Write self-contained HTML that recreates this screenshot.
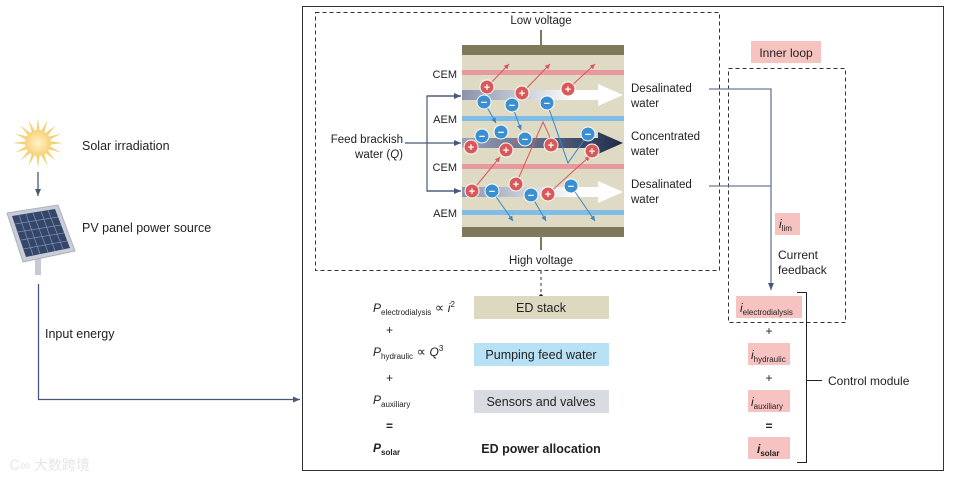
<!DOCTYPE html>
<html><head><meta charset="utf-8"><style>
html,body{margin:0;padding:0;background:#fff;}
svg{display:block;font-family:"Liberation Sans",sans-serif;}
</style></head><body>
<svg width="959" height="481" viewBox="0 0 959 481" xmlns="http://www.w3.org/2000/svg">
<defs>
<marker id="ar" markerWidth="8" markerHeight="8" refX="7" refY="4" orient="auto" markerUnits="userSpaceOnUse"><path d="M0,1 L7,4 L0,7 Z" fill="#4a5878"/></marker>
<marker id="rr" markerWidth="6" markerHeight="6" refX="5" refY="3" orient="auto" markerUnits="userSpaceOnUse"><path d="M0,0.5 L5,3 L0,5.5 Z" fill="#d9595a"/></marker>
<marker id="br" markerWidth="6" markerHeight="6" refX="5" refY="3" orient="auto" markerUnits="userSpaceOnUse"><path d="M0,0.5 L5,3 L0,5.5 Z" fill="#3a86c4"/></marker>
<linearGradient id="wg" x1="0" x2="1"><stop offset="0" stop-color="#8a93ad"/><stop offset="0.7" stop-color="#ffffff"/><stop offset="1" stop-color="#ffffff"/></linearGradient>
<linearGradient id="dg" x1="0" x2="1"><stop offset="0" stop-color="#9aa2b8"/><stop offset="0.5" stop-color="#5b6785"/><stop offset="1" stop-color="#1f2c48"/></linearGradient>
<radialGradient id="sun"><stop offset="0" stop-color="#fff3c8"/><stop offset="1" stop-color="#f6d27a"/></radialGradient>
</defs>

<!-- outer box -->
<rect x="302.5" y="6.5" width="641" height="464" fill="none" stroke="#333" stroke-width="1"/>
<!-- dashed top box -->
<rect x="315.5" y="12.5" width="404" height="258" fill="none" stroke="#333" stroke-dasharray="4,3"/>

<!-- stack -->
<rect x="462" y="45" width="162" height="192" fill="#dedac4"/>
<rect x="462" y="45" width="162" height="10" fill="#7e7a59"/>
<rect x="462" y="227" width="162" height="10" fill="#7e7a59"/>
<line x1="541" y1="30" x2="541" y2="45" stroke="#7e7a59" stroke-width="2"/>
<line x1="541" y1="237" x2="541" y2="250" stroke="#7e7a59" stroke-width="2"/>
<rect x="462" y="70" width="162" height="5" fill="#e69a9d"/>
<rect x="462" y="116" width="162" height="5" fill="#7fbde6"/>
<rect x="462" y="164" width="162" height="5" fill="#e69a9d"/>
<rect x="462" y="210" width="162" height="5" fill="#7fbde6"/>
<!-- flow arrows -->
<path d="M462,90 L598,90 L598,84 L623,95 L598,106 L598,100 L462,100 Z" fill="url(#wg)"/>
<path d="M462,138 L598,138 L598,132 L623,143 L598,154 L598,148 L462,148 Z" fill="url(#dg)"/>
<path d="M462,187 L598,187 L598,181 L623,192 L598,203 L598,197 L462,197 Z" fill="url(#wg)"/>

<!-- ion paths -->
<g stroke="#d9595a" stroke-width="1" fill="none" marker-end="url(#rr)">
<line x1="487" y1="87" x2="509" y2="64"/>
<line x1="522" y1="93" x2="550" y2="64"/>
<line x1="568" y1="89" x2="595" y2="64"/>
<line x1="506" y1="150" x2="520" y2="137"/>
<line x1="472" y1="191" x2="500" y2="157"/>
<polyline points="516,184 543,122 549,135 551,145"/>
<line x1="548" y1="194" x2="590" y2="156"/>
</g>
<g stroke="#3a86c4" stroke-width="1" fill="none" marker-end="url(#br)">
<line x1="484" y1="102" x2="496" y2="123"/>
<line x1="512" y1="105" x2="521" y2="130"/>
<polyline points="547,103 568,163 582,143 588,134"/>
<line x1="492" y1="191" x2="513" y2="221"/>
<line x1="531" y1="195" x2="546" y2="221"/>
<line x1="571" y1="186" x2="595" y2="221"/>
</g>
<g font-size="11" font-weight="bold" text-anchor="middle" fill="#fff">
<g fill="#d9595a" stroke="#fff" stroke-width="1">
<circle cx="487" cy="87" r="7"/><circle cx="522" cy="93" r="7"/><circle cx="568" cy="89" r="7"/>
<circle cx="471" cy="147" r="7"/><circle cx="506" cy="150" r="7"/><circle cx="551" cy="145" r="7"/><circle cx="592" cy="151" r="7"/>
<circle cx="472" cy="191" r="7"/><circle cx="516" cy="184" r="7"/><circle cx="548" cy="194" r="7"/>
</g>
<g fill="#3a8fd0" stroke="#fff" stroke-width="1">
<circle cx="484" cy="102" r="7"/><circle cx="512" cy="105" r="7"/><circle cx="547" cy="103" r="7"/>
<circle cx="482" cy="136" r="7"/><circle cx="501" cy="132" r="7"/><circle cx="525" cy="139" r="7"/><circle cx="588" cy="134" r="7"/>
<circle cx="492" cy="191" r="7"/><circle cx="531" cy="195" r="7"/><circle cx="571" cy="186" r="7"/>
</g>
<g>
<text x="487" y="91">+</text><text x="522" y="97">+</text><text x="568" y="93">+</text>
<text x="471" y="151">+</text><text x="506" y="154">+</text><text x="551" y="149">+</text><text x="592" y="155">+</text>
<text x="472" y="195">+</text><text x="516" y="188">+</text><text x="548" y="198">+</text>
<text x="484" y="106">−</text><text x="512" y="109">−</text><text x="547" y="107">−</text>
<text x="482" y="140">−</text><text x="501" y="136">−</text><text x="525" y="143">−</text><text x="588" y="138">−</text>
<text x="492" y="195">−</text><text x="531" y="199">−</text><text x="571" y="190">−</text>
</g>
</g>

<g font-size="11.5" fill="#222">
<text x="541" y="24" text-anchor="middle">Low voltage</text>
<text x="541" y="264" text-anchor="middle">High voltage</text>
<text x="457" y="78" text-anchor="end" font-size="11">CEM</text>
<text x="457" y="123" text-anchor="end" font-size="11">AEM</text>
<text x="457" y="171" text-anchor="end" font-size="11">CEM</text>
<text x="457" y="217" text-anchor="end" font-size="11">AEM</text>
<text x="403" y="143" text-anchor="end">Feed brackish</text>
<text x="403" y="158" text-anchor="end">water (<tspan font-style="italic">Q</tspan>)</text>
<text x="631" y="92">Desalinated</text><text x="631" y="107">water</text>
<text x="631" y="140">Concentrated</text><text x="631" y="155">water</text>
<text x="631" y="188">Desalinated</text><text x="631" y="203">water</text>
</g>
<!-- feed bracket -->
<g stroke="#4a5878" stroke-width="1.2" fill="none">
<polyline points="461,96 427,96 427,191 461,191" />
<line x1="405" y1="143" x2="461" y2="143" marker-end="url(#ar)"/>
<line x1="427" y1="96" x2="461" y2="96" marker-end="url(#ar)"/>
<line x1="427" y1="191" x2="461" y2="191" marker-end="url(#ar)"/>
</g>

<!-- inner loop -->
<rect x="751" y="41" width="70" height="22" fill="#f7c3c0"/>
<text x="786" y="57" font-size="12" text-anchor="middle" fill="#222">Inner loop</text>
<rect x="728.5" y="68.5" width="117" height="254" fill="none" stroke="#333" stroke-dasharray="4,3"/>
<g stroke="#6b7a98" stroke-width="1.3" fill="none">
<polyline points="709,89 771,89 771,290" marker-end="url(#ar)"/>
<line x1="709" y1="186" x2="771" y2="186"/>
</g>
<rect x="775" y="213" width="25" height="22" fill="#f7c3c0"/>
<text x="779" y="228" font-size="12" font-style="italic" fill="#222">i<tspan font-size="8" font-style="normal" dy="3">lim</tspan></text>
<text x="778" y="259" font-size="12" fill="#222">Current</text>
<text x="778" y="274" font-size="12" fill="#222">feedback</text>

<!-- right column -->
<g fill="#f7c3c0">
<rect x="736" y="296" width="66" height="22"/><rect x="748" y="343" width="42" height="22"/>
<rect x="748" y="390" width="42" height="22"/><rect x="748" y="437" width="42" height="22"/>
</g>
<g font-size="12" fill="#222">
<text x="740" y="312" font-style="italic">i<tspan font-size="8" font-style="normal" dy="3">electrodialysis</tspan></text>
<text x="751" y="359" font-style="italic">i<tspan font-size="8" font-style="normal" dy="3">hydraulic</tspan></text>
<text x="751" y="406" font-style="italic">i<tspan font-size="8" font-style="normal" dy="3">auxiliary</tspan></text>
<text x="757" y="453" font-style="italic" font-weight="bold">i<tspan font-size="8" font-style="normal" dy="3">solar</tspan></text>
<text x="769" y="335" text-anchor="middle">+</text>
<text x="769" y="382" text-anchor="middle">+</text>
<text x="769" y="430" text-anchor="middle" font-weight="bold">=</text>
<text x="828" y="385">Control module</text>
</g>
<polyline points="797,292.5 806.5,292.5 806.5,462.5 797,462.5" fill="none" stroke="#222" stroke-width="1"/>
<line x1="806" y1="380.5" x2="822" y2="380.5" stroke="#222"/>

<!-- left formulas -->
<line x1="541" y1="271" x2="541" y2="296" stroke="#333" stroke-dasharray="3,3"/>
<circle cx="541" cy="296" r="1.8" fill="#222"/>
<rect x="474" y="296" width="135" height="23" fill="#dcd9c0"/>
<rect x="474" y="343" width="135" height="23" fill="#b9e1f5"/>
<rect x="474" y="390" width="135" height="23" fill="#d9dbe3"/>
<g font-size="12.5" fill="#222" text-anchor="middle">
<text x="541" y="312">ED stack</text>
<text x="541" y="359">Pumping feed water</text>
<text x="541" y="406">Sensors and valves</text>
<text x="541" y="453" font-weight="bold">ED power allocation</text>
</g>
<g font-size="12" fill="#222">
<text x="373" y="312" font-style="italic">P<tspan font-size="8" font-style="normal" dy="3">electrodialysis</tspan><tspan dy="-3" font-style="normal" font-size="13"> ∝ </tspan><tspan>i</tspan><tspan font-size="8" dy="-5" font-style="normal">2</tspan></text>
<text x="386" y="334">+</text>
<text x="373" y="356" font-style="italic">P<tspan font-size="8" font-style="normal" dy="3">hydraulic</tspan><tspan dy="-3" font-style="normal" font-size="13"> ∝ </tspan><tspan>Q</tspan><tspan font-size="8" dy="-5" font-style="normal">3</tspan></text>
<text x="386" y="382">+</text>
<text x="373" y="404" font-style="italic">P<tspan font-size="8" font-style="normal" dy="3">auxiliary</tspan></text>
<text x="386" y="430" font-weight="bold">=</text>
<text x="373" y="452" font-style="italic" font-weight="bold">P<tspan font-size="8" font-style="normal" dy="3">solar</tspan></text>
</g>

<!-- left side -->
<g transform="translate(38,143)">
<g fill="#f6d27a">
<polygon points="0,-25 2,-10 -2,-10"/><polygon points="0,25 2,10 -2,10"/><polygon points="-25,0 -10,2 -10,-2"/><polygon points="25,0 10,2 10,-2"/>
<polygon points="0,-25 2,-10 -2,-10" transform="rotate(22.5)"/><polygon points="0,-25 2,-10 -2,-10" transform="rotate(45)"/><polygon points="0,-25 2,-10 -2,-10" transform="rotate(67.5)"/>
<polygon points="0,-25 2,-10 -2,-10" transform="rotate(112.5)"/><polygon points="0,-25 2,-10 -2,-10" transform="rotate(135)"/><polygon points="0,-25 2,-10 -2,-10" transform="rotate(157.5)"/>
<polygon points="0,-25 2,-10 -2,-10" transform="rotate(202.5)"/><polygon points="0,-25 2,-10 -2,-10" transform="rotate(225)"/><polygon points="0,-25 2,-10 -2,-10" transform="rotate(247.5)"/>
<polygon points="0,-25 2,-10 -2,-10" transform="rotate(292.5)"/><polygon points="0,-25 2,-10 -2,-10" transform="rotate(315)"/><polygon points="0,-25 2,-10 -2,-10" transform="rotate(337.5)"/>
</g>
<circle r="13" fill="url(#sun)"/>
</g>
<line x1="38" y1="172" x2="38" y2="196" stroke="#4a5878" stroke-width="1.3" marker-end="url(#ar)"/>
<rect x="35" y="258" width="6" height="17" fill="#c5cad6"/>
<polygon points="7,213 58,205 75,251 23,262" fill="#c8cdd8" stroke="#aab0be"/>
<polygon points="12,216 55,209 70,248 26,257" fill="#34476b"/>
<g stroke="#7d8cab" stroke-width="0.8">
<line x1="19" y1="215" x2="33" y2="255"/><line x1="26" y1="214" x2="40" y2="254"/><line x1="33" y1="213" x2="48" y2="252"/><line x1="41" y1="211" x2="55" y2="251"/><line x1="48" y1="210" x2="63" y2="249"/>
<line x1="15" y1="224" x2="58" y2="217"/><line x1="18" y1="232" x2="61" y2="225"/><line x1="21" y1="240" x2="64" y2="233"/><line x1="23" y1="249" x2="67" y2="241"/>
</g>
<g font-size="12.5" fill="#222">
<text x="82" y="150">Solar irradiation</text>
<text x="82" y="232">PV panel power source</text>
<text x="45" y="338">Input energy</text>
</g>
<polyline points="38.5,284 38.5,399.5 300,399.5" fill="none" stroke="#4a5878" stroke-width="1.3" marker-end="url(#ar)"/>

<text x="10" y="470" font-size="14" fill="#e6e6e6" font-family="'Liberation Sans','Noto Sans CJK SC',sans-serif">Ꮯ∞ 大数跨境</text>
</svg>
</body></html>
